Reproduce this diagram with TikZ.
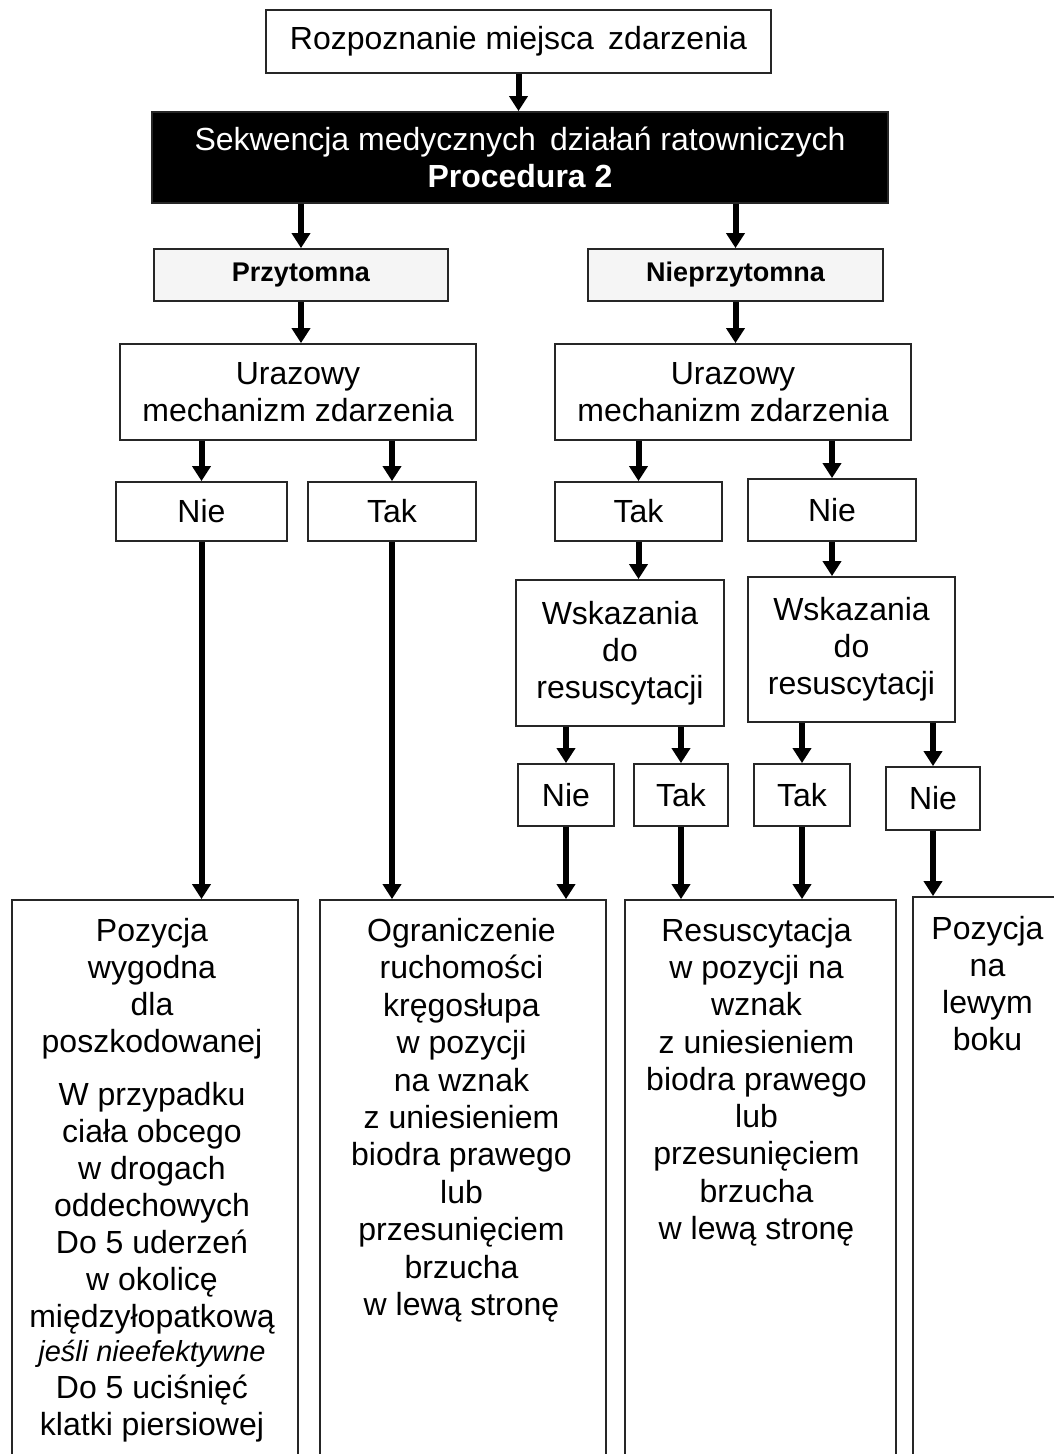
\documentclass[tikz,border=0pt]{standalone}
\usepackage{fontspec}
\setmainfont{Liberation Sans}
\usetikzlibrary{arrows.meta}
\begin{document}
\begin{tikzpicture}[x=1pt,y=-1pt,
  every node/.style={font=\fontsize{32}{37}\selectfont},
  box/.style={draw=black!85, line width=1.8pt, fill=white, inner sep=0pt, align=center},
  headbox/.style={box, fill=black!4, font=\fontsize{27}{32}\selectfont\bfseries},
  txt/.style={inner sep=0pt, align=center, anchor=north},
  arr/.style={line width=6pt, -{Triangle[width=18pt,length=15pt]}}]
\useasboundingbox (0,0) rectangle (1054,1454);
\clip (0,0) rectangle (1054,1454);

% top of the flow
\node[box, minimum width=505pt, minimum height=63pt] (top) at (518.5,41.5) {Rozpoznanie miejsca\, zdarzenia};
\node[box, fill=black, text=white, minimum width=736pt, minimum height=91pt] (seq) at (520,157.5)
  {Sekwencja medycznych\, działań ratowniczych\\\textbf{Procedura 2}};

% consciousness
\node[headbox, minimum width=294pt, minimum height=52pt] (przyt) at (301,275) {Przytomna};
\node[headbox, minimum width=295pt, minimum height=52pt] (nprzyt) at (735.5,275) {Nieprzytomna};

% trauma mechanism
\node[box, minimum width=356pt, minimum height=96pt] (urazL) at (298,392) {Urazowy\\mechanizm zdarzenia};
\node[box, minimum width=356pt, minimum height=96pt] (urazR) at (733,392) {Urazowy\\mechanizm zdarzenia};

\node[box, minimum width=171pt, minimum height=59pt] (nieL) at (201.5,511.5) {Nie};
\node[box, minimum width=168pt, minimum height=59pt] (takL) at (392,511.5) {Tak};
\node[box, minimum width=167pt, minimum height=59pt] (takR) at (638.5,511.5) {Tak};
\node[box, minimum width=168pt, minimum height=62pt] (nieR) at (832,510) {Nie};

% resuscitation indications
\node[box, minimum width=208pt, minimum height=146pt] (wskL) at (620,653)
  {\fontsize{32}{39}\selectfont Wskazania\\do\\resuscytacji};
\node[box, minimum width=207pt, minimum height=145pt] (wskR) at (851.5,649.5)
  {\fontsize{32}{39}\selectfont Wskazania\\do\\resuscytacji};

\node[box, minimum width=96pt, minimum height=62pt] (n1) at (566,795) {Nie};
\node[box, minimum width=94pt, minimum height=62pt] (t1) at (681,795) {Tak};
\node[box, minimum width=96pt, minimum height=62pt] (t2) at (802,795) {Tak};
\node[box, minimum width=94pt, minimum height=63pt] (n2) at (933,798.5) {Nie};

% outcome boxes (run past the lower edge)
\node[box, minimum width=286pt, minimum height=580pt] (b1) at (155,1190) {};
\node[box, minimum width=286pt, minimum height=580pt] (b2) at (463,1190) {};
\node[box, minimum width=271pt, minimum height=580pt] (b3) at (760.5,1190) {};
\node[box, minimum width=157pt, minimum height=583pt] (b4) at (991.5,1188.5) {};

\node[txt] (b1t) at (152,918) {Pozycja\\wygodna\\dla\\poszkodowanej\\[16pt]
  W przypadku\\ciała obcego\\w drogach\\oddechowych\\Do 5 uderzeń\\w okolicę\\międzyłopatkową\\[-3pt]
  {\fontsize{29}{33}\selectfont\itshape jeśli nieefektywne}\\Do 5 uciśnięć\\klatki piersiowej};
\node[txt, font=\fontsize{32}{37.4}\selectfont] (b2t) at (461.5,918) {Ograniczenie\\ruchomości\\kręgosłupa\\w pozycji\\na wznak\\z uniesieniem\\biodra prawego\\lub\\przesunięciem\\brzucha\\w lewą stronę};
\node[txt, font=\fontsize{32}{37.25}\selectfont] (b3t) at (756.5,918) {Resuscytacja\\w pozycji na\\wznak\\z uniesieniem\\biodra prawego\\lub\\przesunięciem\\brzucha\\w lewą stronę};
\node[txt] (b4t) at (987.5,916) {Pozycja\\na\\lewym\\boku};

% connectors
\draw[arr] (top.south) -- (top.south |- seq.north);
\draw[arr] (przyt.north |- seq.south) -- (przyt.north);
\draw[arr] (nprzyt.north |- seq.south) -- (nprzyt.north);
\draw[arr] (przyt.south) -- (przyt.south |- urazL.north);
\draw[arr] (nprzyt.south) -- (nprzyt.south |- urazR.north);
\draw[arr] (nieL.north |- urazL.south) -- (nieL.north);
\draw[arr] (takL.north |- urazL.south) -- (takL.north);
\draw[arr] (takR.north |- urazR.south) -- (takR.north);
\draw[arr] (nieR.north |- urazR.south) -- (nieR.north);
\draw[arr] (nieL.south) -- (nieL.south |- b1.north);
\draw[arr] (takL.south) -- (takL.south |- b2.north);
\draw[arr] (takR.south) -- (takR.south |- wskL.north);
\draw[arr] (nieR.south) -- (nieR.south |- wskR.north);
\draw[arr] (n1.north |- wskL.south) -- (n1.north);
\draw[arr] (t1.north |- wskL.south) -- (t1.north);
\draw[arr] (t2.north |- wskR.south) -- (t2.north);
\draw[arr] (n2.north |- wskR.south) -- (n2.north);
\draw[arr] (n1.south) -- (n1.south |- b2.north);
\draw[arr] (t1.south) -- (t1.south |- b3.north);
\draw[arr] (t2.south) -- (t2.south |- b3.north);
\draw[arr] (n2.south) -- (n2.south |- b4.north);
\end{tikzpicture}
\end{document}
